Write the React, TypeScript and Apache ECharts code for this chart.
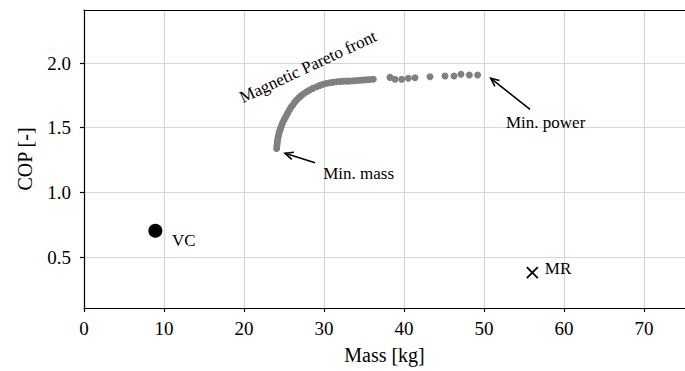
import React, { useEffect, useRef } from "react";
import * as echarts from "echarts";

// Magnetic Pareto front: [mass kg, COP]
const paretoMass = [
  24.08, 24.12, 24.16, 24.2, 24.26, 24.33, 24.4, 24.5, 24.6, 24.72, 24.85, 25.0, 25.15, 25.3, 25.48,
  25.67, 25.87, 26.1, 26.33, 26.58, 26.85, 27.12, 27.45, 27.83, 28.2, 28.6, 29.08, 29.5, 29.9,
  30.33, 30.75, 31.15, 31.58, 32.0, 32.4, 32.85, 33.25, 33.7, 34.1, 34.5, 34.9, 35.3, 35.7, 36.16,
  38.25, 38.875, 39.71, 40.54, 41.375, 43.25, 45.125, 46.25, 47.125, 48.17, 49.2,
];
const paretoCOP = [
  1.34, 1.365, 1.385, 1.405, 1.425, 1.445, 1.462, 1.482, 1.5, 1.52, 1.54, 1.559, 1.577, 1.594, 1.616,
  1.637, 1.657, 1.676, 1.696, 1.714, 1.731, 1.746, 1.762, 1.778, 1.791, 1.804, 1.817, 1.827, 1.836,
  1.843, 1.848, 1.852, 1.855, 1.857, 1.859, 1.86, 1.861, 1.863, 1.865, 1.867, 1.869, 1.871, 1.872, 1.874,
  1.889, 1.874, 1.874, 1.882, 1.886, 1.894, 1.9, 1.9, 1.913, 1.907, 1.907,
];

// Reference designs
const vcPoint = [8.92, 0.703];
const mrPoint = [56.04, 0.379];

// Annotation arrows: [tailX, tailY, tipX, tipY]
const arrowMinMass = [28.875, 1.229, 25.125, 1.302];
const arrowMinPower = [55.75, 1.642, 50.84, 1.882];

// Annotation texts: [x, y, text]
const noteMinMass: [number, number, string] = [29.9, 1.149, "Min. mass"];
const noteMinPower: [number, number, string] = [52.75, 1.544, "Min. power"];
const noteVC: [number, number, string] = [11.0, 0.631, "VC"];
const noteMR: [number, number, string] = [57.6, 0.415, "MR"];
const noteFront: [number, number, string] = [28.0, 1.971, "Magnetic Pareto front"];

const xTicks = [0, 10, 20, 30, 40, 50, 60, 70];
const yTicks = [0.5, 1.0, 1.5, 2.0];

const FONT = "Liberation Serif";

export default function App() {
  const ref = useRef<HTMLDivElement>(null);
  useEffect(() => {
    if (!ref.current) return;
    const chart = echarts.init(ref.current, null, { renderer: "svg" });
    const paretoData = paretoMass.map((m, i) => [m, paretoCOP[i]]);
    const leftNote = (n: [number, number, string]) => ({
      value: [n[0], n[1]],
      label: {
        show: true,
        formatter: n[2],
        position: [0, 0],
        align: "left",
        verticalAlign: "middle",
        fontFamily: FONT,
        fontSize: 17,
        color: "#000",
        opacity: 1,
      },
    });
    chart.setOption({
      animation: false,
      grid: { left: 84, top: 10, right: 0, bottom: 63 },
      xAxis: [
        {
          type: "value",
          min: 0,
          max: 75.125,
          name: "Mass [kg]",
          nameLocation: "middle",
          nameGap: 37,
          nameTextStyle: { fontFamily: FONT, fontSize: 20, color: "#000" },
          axisLine: { show: true, lineStyle: { color: "#000", width: 1.2 } },
          axisTick: { show: true, length: 4, customValues: xTicks, lineStyle: { color: "#000", width: 1.2 } },
          axisLabel: { customValues: xTicks, fontFamily: FONT, fontSize: 19, color: "#000", margin: 11 },
          splitLine: { show: true, lineStyle: { color: "#d6d6d6", width: 1.2 } },
        },
        {
          type: "value",
          position: "top",
          min: 0,
          max: 75.125,
          axisLine: { show: true, lineStyle: { color: "#000", width: 1.2 } },
          axisTick: { show: false },
          axisLabel: { show: false },
          splitLine: { show: false },
        },
      ],
      yAxis: {
        type: "value",
        min: 0.106,
        max: 2.41,
        name: "COP [-]",
        nameLocation: "middle",
        nameGap: 49,
        nameTextStyle: { fontFamily: FONT, fontSize: 20, color: "#000" },
        axisLine: { show: true, lineStyle: { color: "#000", width: 1.2 } },
        axisTick: { show: true, length: 4, customValues: yTicks, lineStyle: { color: "#000", width: 1.2 } },
        axisLabel: {
          customValues: yTicks,
          fontFamily: FONT,
          fontSize: 19,
          color: "#000",
          margin: 13,
          formatter: (v: number) => v.toFixed(1),
        },
        splitLine: { show: true, lineStyle: { color: "#d6d6d6", width: 1.2 } },
      },
      series: [
        {
          type: "scatter",
          data: paretoData,
          symbol: "circle",
          symbolSize: 7,
          itemStyle: { color: "#808080", opacity: 1 },
          z: 3,
        },
        {
          type: "scatter",
          data: [vcPoint],
          symbol: "circle",
          symbolSize: 14,
          itemStyle: { color: "#000", opacity: 1 },
          z: 3,
        },
        {
          type: "scatter",
          data: [mrPoint],
          symbol: "path://M0,0L10,10M10,0L0,10",
          symbolSize: 11,
          itemStyle: { color: "transparent", borderColor: "#000", borderWidth: 1.8, opacity: 1 },
          z: 3,
        },
        {
          type: "custom",
          data: [arrowMinMass, arrowMinPower],
          encode: { x: [0, 2], y: [1, 3] },
          z: 4,
          renderItem: (_params: any, api: any) => {
            const p1 = api.coord([api.value(0), api.value(1)]);
            const p2 = api.coord([api.value(2), api.value(3)]);
            const ang = Math.atan2(p2[1] - p1[1], p2[0] - p1[0]);
            const L = 9;
            const s = 0.42;
            const a1 = [p2[0] - L * Math.cos(ang - s), p2[1] - L * Math.sin(ang - s)];
            const a2 = [p2[0] - L * Math.cos(ang + s), p2[1] - L * Math.sin(ang + s)];
            return {
              type: "group",
              children: [
                {
                  type: "line",
                  shape: { x1: p1[0], y1: p1[1], x2: p2[0], y2: p2[1] },
                  style: { stroke: "#000", lineWidth: 1.6 },
                },
                {
                  type: "polyline",
                  shape: { points: [a1, p2, a2] },
                  style: { stroke: "#000", lineWidth: 1.6, fill: null },
                },
              ],
            };
          },
        },
        {
          type: "scatter",
          symbolSize: 0,
          silent: true,
          z: 5,
          itemStyle: { opacity: 1 },
          data: [
            leftNote(noteMinMass),
            leftNote(noteMinPower),
            leftNote(noteVC),
            leftNote(noteMR),
            {
              value: [noteFront[0], noteFront[1]],
              label: {
                show: true,
                formatter: noteFront[2],
                position: "inside",
                rotate: 25,
                align: "center",
                verticalAlign: "middle",
                fontFamily: FONT,
                fontSize: 17,
                color: "#000",
                opacity: 1,
              },
            },
          ],
        },
      ],
    });
    return () => chart.dispose();
  }, []);
  return (
    <div
      ref={ref}
      style={{ position: "fixed", left: 0, top: 0, width: 685, height: 371, background: "#fff" }}
    />
  );
}
